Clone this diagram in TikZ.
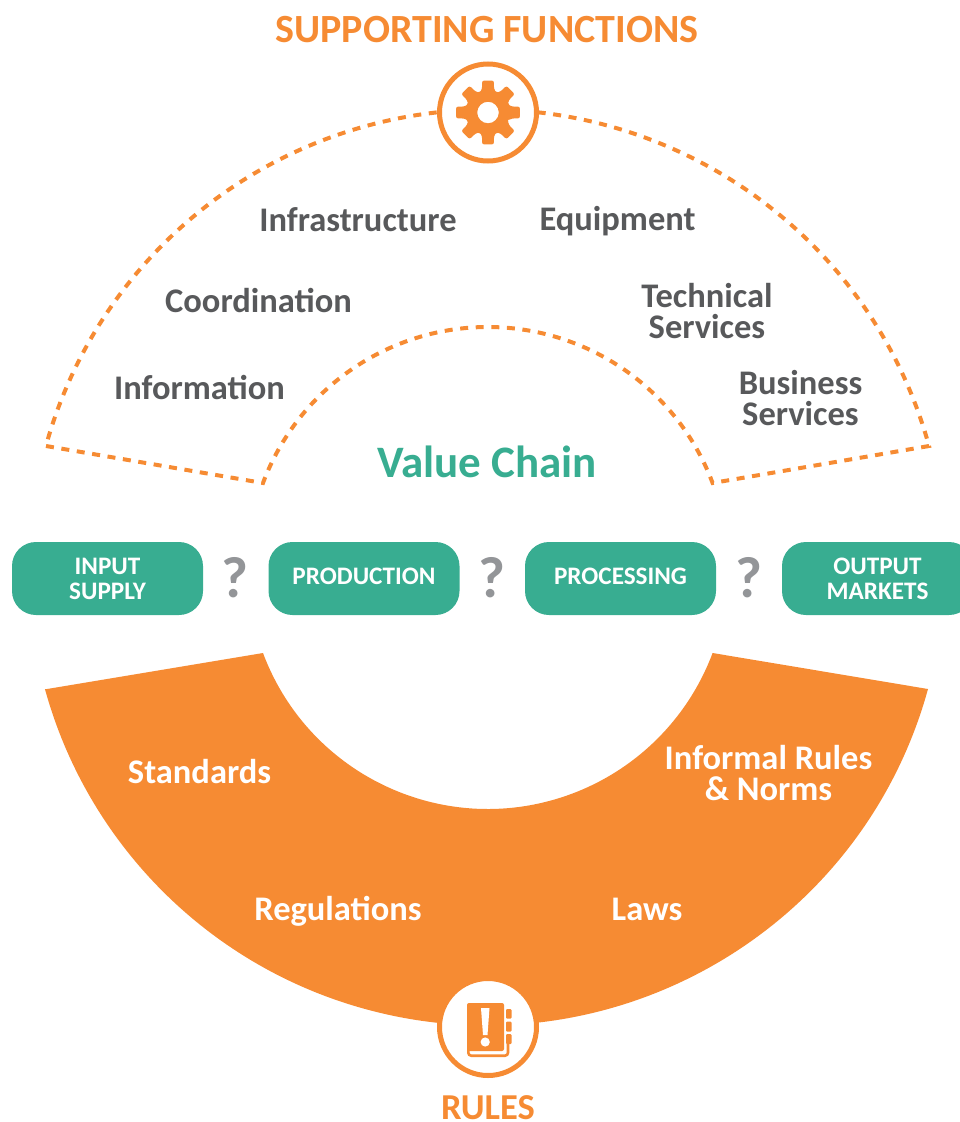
\documentclass[tikz,border=0pt]{standalone}
\usepackage{fontspec}
\setmainfont{Carlito}
\definecolor{vcorange}{HTML}{F68B33}
\definecolor{vcteal}{HTML}{38AD91}
\definecolor{vcgrey}{HTML}{58595B}
\definecolor{vcq}{HTML}{939598}
\newcommand{\uplift}{\rule[-4pt]{0pt}{4pt}}
\tikzset{x=1pt,y=-1pt,
 lab/.style={font=\fontsize{34.5}{31}\selectfont\bfseries,text=vcgrey,align=center,inner sep=0pt},
 wlab/.style={lab,text=white},
 chain/.style={rounded corners=24pt,fill=vcteal,text=white,minimum width=191pt,minimum height=73pt,font=\fontsize{25.2}{25}\selectfont\bfseries,align=center,inner sep=0pt},
 qm/.style={font=\fontsize{58}{58}\selectfont\bfseries,text=vcq,inner sep=0pt},
 ring/.style={circle,draw=vcorange,line width=5pt,fill=white,minimum size=97pt,inner sep=0pt},
 dashline/.style={draw=vcorange,line width=4pt,dash pattern=on 8pt off 7.6pt}}
\begin{document}
\begin{tikzpicture}
\useasboundingbox (0,0) rectangle (960,1122);
\clip (0,0) rectangle (960,1122);
% supporting functions dashed sector
\draw[dashline,line join=miter] (46,446) -- (263,483)
   arc[start angle=159.5,end angle=20.5,radius=240pt]
   -- (929,446)
   arc[start angle=15.4,end angle=164.6,radius=458pt] -- cycle;
% rules filled sector
\fill[vcorange] (47,689) -- (263,653)
   arc[start angle=200.5,end angle=339.5,radius=240pt]
   -- (928,689)
   arc[start angle=-15.4,end angle=-164.6,radius=458pt] -- cycle;
% gear icon
\node[ring] (gearring) at (488,112.5) {};
\begin{scope}[shift={(488,112.5)}]
 \fill[vcorange,rounded corners=2.2pt,even odd rule]
  (-22.5:21.5pt)
  \foreach \a in {0,45,...,315}{
   -- (\a-14:24.5pt) -- (\a-10.5:32.5pt) -- (\a+10.5:32.5pt) -- (\a+14:24.5pt) -- (\a+22.5:21.5pt)
  } -- cycle (0,0) circle[radius=10.8pt];
\end{scope}
% book icon
\node[ring] (bookring) at (488,1027) {};
\fill[vcorange,rounded corners=2pt] (467,1003) rectangle (504,1051);
\draw[vcorange,line width=2.6pt,rounded corners=3pt] (468.3,1046) -- (468.3,1055.7) -- (508,1055.7) -- (508,1044);
\fill[vcorange,rounded corners=1pt] (506,1009) rectangle (511.5,1018.5);
\fill[vcorange,rounded corners=1pt] (506,1021.5) rectangle (511.5,1031.5);
\fill[vcorange,rounded corners=1pt] (506,1034) rectangle (511.5,1044);
\fill[white] (481,1008) -- (489.5,1008) -- (487.5,1035) -- (483,1035) -- cycle;
\fill[white] (485.2,1042) circle[radius=4.6pt];
% titles
\node[font=\fontsize{40}{40}\selectfont\bfseries,text=vcorange,inner sep=0pt] (title) at (487,30) {SUPPORTING FUNCTIONS};
\node[font=\fontsize{36.5}{36.5}\selectfont\bfseries,text=vcorange,inner sep=0pt] (rules) at (488,1107.5) {RULES};
\node[font=\fontsize{45}{45}\selectfont\bfseries,text=vcteal,inner sep=0pt] (vc) at (487,462) {Value Chain};
% supporting labels
\node[lab] (infra) at (358,219.5) {Infrastructure};
\node[lab] (equip) at (617.5,221) {Equipment};
\node[lab] (coord) at (258.5,300) {Coordination};
\node[lab] (tech) at (707,311) {Technical\\Services};
\node[lab] (info) at (199.5,387) {Information};
\node[lab] (bus) at (800.5,398) {Business\\Services};
% chain
\node[chain] (input) at (107.5,578.5) {INPUT\\SUPPLY};
\node[chain] (prod) at (364,578.5) {\uplift PRODUCTION};
\node[chain] (proc) at (620.5,578.5) {\uplift PROCESSING};
\node[chain] (out) at (877.5,578.5) {OUTPUT\\MARKETS};
\node[qm] (q1) at (235,578) {?};
\node[qm] (q2) at (492,578) {?};
\node[qm] (q3) at (749,578) {?};
% rules labels
\node[wlab] (std) at (199.5,771.5) {Standards};
\node[wlab] (inf) at (768.5,773) {Informal Rules\\\& Norms};
\node[wlab] (reg) at (338,911) {Regulations};
\node[wlab] (laws) at (647,909) {Laws};
\end{tikzpicture}
\end{document}
